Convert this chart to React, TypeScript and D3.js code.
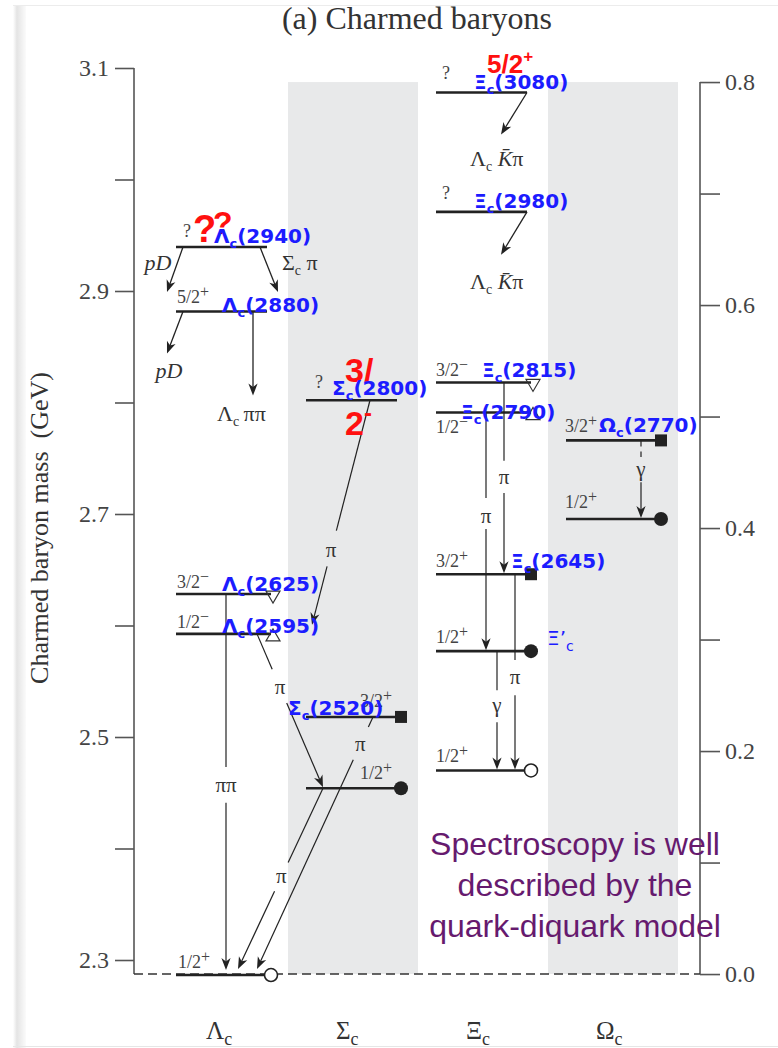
import React, { useEffect, useRef } from "react";
import * as d3 from "d3";

const W = 778;
const H = 1048;
const SERIF = "'Liberation Serif', 'Times New Roman', serif";
const SANS = "'Liberation Sans', Arial, sans-serif";
const DEJAVU = "'DejaVu Sans', sans-serif";
const BLUE = "#1c1cff";
const RED = "#ff1010";
const INK = "#222";

// ---------- data ----------
const COLUMNS = ["Λ", "Σ", "Ξ", "Ω"];
const MASS_TICKS = [2.3, 2.4, 2.5, 2.6, 2.7, 2.8, 2.9, 3.0, 3.1];
const MASS_LABELS = [2.3, 2.5, 2.7, 2.9, 3.1];
const EXC_TICKS = [0.0, 0.1, 0.2, 0.3, 0.4, 0.5, 0.6, 0.7, 0.8];
const EXC_LABELS = [0.0, 0.2, 0.4, 0.6, 0.8];
const LAMBDA_C0 = 2.2874; // reference (Λc ground) for the excitation axis

const LAMBDA_MASS = [2.2865, 2.5925, 2.6282, 2.8816, 2.9394];
const LAMBDA_JP = ["1/2+", "1/2−", "3/2−", "5/2+", "?"];
const LAMBDA_MARK = ["open", "triUp", "triDown", "", ""];

const SIGMA_MASS = [2.454, 2.518, 2.802];
const SIGMA_JP = ["1/2+", "3/2+", "?"];
const SIGMA_MARK = ["dot", "square", ""];

const XI_MASS = [2.47, 2.577, 2.646, 2.791, 2.818, 2.971, 3.078];
const XI_JP = ["1/2+", "1/2+", "3/2+", "1/2−", "3/2−", "?", "?"];
const XI_MARK = ["open", "dot", "square", "triUp", "triDown", "", ""];

const OMEGA_MASS = [2.6955, 2.766];
const OMEGA_JP = ["1/2+", "3/2+"];
const OMEGA_MARK = ["dot", "square"];

// ---------- layout of annotations ----------
const LAMBDA_JP_POS = [[20, -7], [19, -6], [19, -6], [19, -9], [25, -10]];
const SIGMA_JP_POS = [[72, -9], [72, -10], [27, -12]];
const XI_JP_POS = [[18, -8], [18, -8], [18, -7], [18, 20], [18, -6], [24, -13], [24, -14]];
const OMEGA_JP_POS = [[17, -11], [17, -8]];

const NAME_LABELS = [
  { col: 0, mass: LAMBDA_MASS[4], sym: "Λ", num: "(2940)", dx: 56, dy: -4 },
  { col: 0, mass: LAMBDA_MASS[3], sym: "Λ", num: "(2880)", dx: 64, dy: 0 },
  { col: 0, mass: LAMBDA_MASS[2], sym: "Λ", num: "(2625)", dx: 64, dy: -3 },
  { col: 0, mass: LAMBDA_MASS[1], sym: "Λ", num: "(2595)", dx: 64, dy: -1 },
  { col: 1, mass: SIGMA_MASS[1], sym: "Σ", num: "(2520)", dx: 0, dy: -2 },
  { col: 1, mass: SIGMA_MASS[2], sym: "Σ", num: "(2800)", dx: 44, dy: -5 },
  { col: 2, mass: XI_MASS[6], sym: "Ξ", num: "(3080)", dx: 56, dy: -4 },
  { col: 2, mass: XI_MASS[5], sym: "Ξ", num: "(2980)", dx: 56, dy: -4 },
  { col: 2, mass: XI_MASS[4], sym: "Ξ", num: "(2815)", dx: 64, dy: -5 },
  { col: 2, mass: XI_MASS[3], sym: "Ξ", num: "(2790)", dx: 43, dy: 6 },
  { col: 2, mass: XI_MASS[2], sym: "Ξ", num: "(2645)", dx: 93, dy: -6 },
  { col: 3, mass: OMEGA_MASS[1], sym: "Ω", num: "(2770)", dx: 51, dy: -8 },
];

// decays into the continuum (start on a level, fixed pixel length)
const CONT_ARROWS = [
  { x1: 183, m1: LAMBDA_MASS[4], x2: 167, len: 45 },
  { x1: 260, m1: LAMBDA_MASS[4], x2: 278, len: 45 },
  { x1: 183, m1: LAMBDA_MASS[3], x2: 167, len: 42 },
  { x1: 253, m1: LAMBDA_MASS[3], x2: 253, len: 84 },
  { x1: 527, m1: XI_MASS[6], x2: 501, len: 42 },
  { x1: 527, m1: XI_MASS[5], x2: 501, len: 43 },
];

// transitions between levels
const LEVEL_ARROWS = [
  { x1: 370, m1: SIGMA_MASS[2], x2: 312, m2: LAMBDA_MASS[1], off: -9, label: "π", t: 0.67, gap: [0.58, 0.74] },
  { x1: 257, m1: LAMBDA_MASS[1], x2: 323, m2: SIGMA_MASS[0], off: -1, label: "π", t: 0.35, gap: [0.23, 0.45] },
  { x1: 226, m1: LAMBDA_MASS[2], x2: 226, m2: LAMBDA_MASS[0], off: -5, label: "ππ", t: 0.51, gap: [0.46, 0.555] },
  { x1: 323, m1: SIGMA_MASS[0], x2: 238, m2: LAMBDA_MASS[0], off: -6, label: "π", t: 0.49, gap: [0.41, 0.57] },
  { x1: 373, m1: SIGMA_MASS[1], x2: 257, m2: LAMBDA_MASS[0], off: -6, label: "π", t: 0.11, gap: [0.04, 0.17] },
  { x1: 504, m1: XI_MASS[4], x2: 504, m2: XI_MASS[2], off: -1, label: "π", t: 0.5, gap: [0.41, 0.58] },
  { x1: 486, m1: XI_MASS[3], x2: 486, m2: XI_MASS[1], off: -1, label: "π", t: 0.44, gap: [0.36, 0.49] },
  { x1: 515, m1: XI_MASS[2], x2: 515, m2: XI_MASS[0], off: -1, label: "π", t: 0.53, gap: [0.44, 0.62] },
  { x1: 497, m1: XI_MASS[1], x2: 497, m2: XI_MASS[0], off: -1, label: "γ", t: 0.46, gap: [0.33, 0.6] },
  { x1: 641, m1: OMEGA_MASS[1], x2: 641, m2: OMEGA_MASS[0], off: -1, label: "γ", t: 0.38, gap: [0.215, 0.54], dashed: true },
];

type Level = { col: string; mass: number; jp: string; mark: string; pos: number[] };

function build(ci: number, masses: number[], jps: string[], marks: string[], pos: number[][]): Level[] {
  return masses.map((m, i) => ({ col: COLUMNS[ci], mass: m, jp: jps[i], mark: marks[i], pos: pos[i] }));
}

const LEVELS: Level[] = [
  ...build(0, LAMBDA_MASS, LAMBDA_JP, LAMBDA_MARK, LAMBDA_JP_POS),
  ...build(1, SIGMA_MASS, SIGMA_JP, SIGMA_MARK, SIGMA_JP_POS),
  ...build(2, XI_MASS, XI_JP, XI_MARK, XI_JP_POS),
  ...build(3, OMEGA_MASS, OMEGA_JP, OMEGA_MARK, OMEGA_JP_POS),
];

function Arrowhead({ x, y, angle }: { x: number; y: number; angle: number }) {
  return (
    <path
      d="M0,0 L-12,-4.6 L-8.5,0 L-12,4.6 Z"
      fill={INK}
      transform={`translate(${x},${y}) rotate(${(angle * 180) / Math.PI})`}
    />
  );
}

function JP({ x, y, jp }: { x: number; y: number; jp: string }) {
  const last = jp[jp.length - 1];
  const hasSign = last === "+" || last === "−";
  const body = hasSign ? jp.slice(0, -1) : jp;
  return (
    <text x={x} y={y} fontFamily={SERIF} fontSize={18} fill="#444">
      {body}
      {hasSign && (
        <tspan dy={-6} fontSize={16}>
          {last}
        </tspan>
      )}
    </text>
  );
}

export default function App() {
  const leftRef = useRef<SVGGElement>(null);
  const rightRef = useRef<SVGGElement>(null);

  const y = d3.scaleLinear().domain([2.3, 3.1]).range([960, 68]);
  const yR = d3
    .scaleLinear()
    .domain([0, 0.8])
    .range([y(LAMBDA_C0), y(LAMBDA_C0 + 0.8)]);
  const x = d3.scaleBand<string>().domain(COLUMNS).range([158, 678]);
  const bw = x.bandwidth();

  const AX_L = 134;
  const AX_R = 700;

  useEffect(() => {
    const isIn = (arr: number[], v: number) => arr.some((a) => Math.abs(a - v) < 1e-6);
    const fmt = d3.format(".1f");
    const axL = d3
      .axisLeft(y)
      .tickValues(MASS_TICKS)
      .tickSize(19)
      .tickPadding(6)
      .tickFormat((d: any) => (isIn(MASS_LABELS, +d) ? fmt(+d) : ""));
    const gl = d3.select(leftRef.current!);
    gl.call(axL as any);
    gl.select(".domain").remove();
    gl.attr("font-family", SERIF).attr("font-size", 24);
    gl.selectAll(".tick line").attr("stroke", "#555").attr("stroke-width", 1.6);
    gl.selectAll(".tick text").attr("fill", "#444");

    const axR = d3
      .axisRight(yR)
      .tickValues(EXC_TICKS)
      .tickSize(20)
      .tickPadding(5)
      .tickFormat((d: any) => (isIn(EXC_LABELS, +d) ? fmt(+d) : ""));
    const gr = d3.select(rightRef.current!);
    gr.call(axR as any);
    gr.select(".domain").remove();
    gr.attr("font-family", SERIF).attr("font-size", 24);
    gr.selectAll(".tick line").attr("stroke", "#555").attr("stroke-width", 1.6);
    gr.selectAll(".tick text").attr("fill", "#444");
  }, []);

  const markerX = (col: string) => (x(col) as number) + 113;

  const renderMarker = (l: Level, i: number) => {
    const cx = markerX(l.col);
    const cy = y(l.mass);
    switch (l.mark) {
      case "open":
        return <circle key={i} cx={cx} cy={cy} r={6.5} fill="#fff" stroke={INK} strokeWidth={1.6} />;
      case "dot":
        return <circle key={i} cx={cx} cy={cy} r={7} fill={INK} />;
      case "square":
        return <rect key={i} x={cx - 6} y={cy - 6} width={12} height={12} fill={INK} />;
      case "triUp": {
        const tx = cx + 2, ty = cy + 2;
        return (
          <path key={i} d={`M${tx - 7},${ty + 5} L${tx + 7},${ty + 5} L${tx},${ty - 7} Z`} fill="none" stroke="#333" strokeWidth={1.2} />
        );
      }
      case "triDown": {
        const tx = cx + 2, ty = cy + 2;
        return (
          <path key={i} d={`M${tx - 7},${ty - 5} L${tx + 7},${ty - 5} L${tx},${ty + 7} Z`} fill="none" stroke="#333" strokeWidth={1.2} />
        );
      }
      default:
        return null;
    }
  };

  const sub = (s: string, size = 14, dy = 5) => [
    <tspan key="s" dy={dy} fontSize={size}>
      {s}
    </tspan>,
  ];

  return (
    <svg
      width={W}
      height={H}
      style={{ position: "absolute", left: 0, top: 0, background: "#fff" }}
      xmlns="http://www.w3.org/2000/svg"
    >
      <defs>
        <linearGradient id="edge" x1="0" x2="1" y1="0" y2="0">
          <stop offset="0" stopColor="#ffffff" />
          <stop offset="0.3" stopColor="#e4e4e4" />
          <stop offset="1" stopColor="#fbfbfb" />
        </linearGradient>
      </defs>
      {/* page edge */}
      <rect x={13} y={5} width={13} height={H - 5} fill="url(#edge)" />
      <line x1={13} x2={W} y1={5.5} y2={5.5} stroke="#ececec" strokeWidth={1} />
      <line x1={13} x2={W} y1={1046.5} y2={1046.5} stroke="#e6e6e6" strokeWidth={1} />

      {/* title */}
      <text x={417} y={29} textAnchor="middle" fontFamily={SERIF} fontSize={32} fill="#333">
        (a) Charmed baryons
      </text>

      {/* grey bands */}
      {[COLUMNS[1], COLUMNS[3]].map((c) => (
        <rect key={c} x={x(c)} y={yR(0.8)} width={bw} height={yR(0) - yR(0.8)} fill="#e8e9ea" />
      ))}

      {/* axes */}
      <line x1={AX_L} x2={AX_L} y1={y(3.1)} y2={yR(0)} stroke="#555" strokeWidth={1.6} />
      <g ref={leftRef} transform={`translate(${AX_L},0)`} />
      <line x1={AX_R} x2={AX_R} y1={yR(0.8)} y2={yR(0)} stroke="#555" strokeWidth={1.6} />
      <g ref={rightRef} transform={`translate(${AX_R},0)`} />
      <line x1={AX_L} x2={AX_R} y1={yR(0)} y2={yR(0)} stroke="#333" strokeWidth={1.5} strokeDasharray="9 5" />

      {/* axis title */}
      <text
        transform={`translate(48,528) rotate(-90)`}
        textAnchor="middle"
        fontFamily={SERIF}
        fontSize={26}
        fill="#333"
        style={{ whiteSpace: "pre" }}
      >
        {"Charmed baryon mass  (GeV)"}
      </text>

      {/* column labels */}
      {COLUMNS.map((c) => (
        <text key={c} x={(x(c) as number) + bw / 2 - 17} y={1039} fontFamily={SERIF} fontSize={25} fill="#333">
          {c}
          <tspan dy={6} fontSize={18}>
            c
          </tspan>
        </text>
      ))}

      {/* level lines */}
      {LEVELS.map((l, i) => {
        const x0 = (x(l.col) as number) + 18;
        const x1 = l.mark ? markerX(l.col) : (x(l.col) as number) + 109;
        return <line key={i} x1={x0} x2={x1} y1={y(l.mass)} y2={y(l.mass)} stroke={INK} strokeWidth={2.6} />;
      })}

      {/* continuum decays */}
      {CONT_ARROWS.map((a, i) => {
        const y1 = y(a.m1);
        const y2 = y1 + a.len;
        const ang = Math.atan2(y2 - y1, a.x2 - a.x1);
        return (
          <g key={i}>
            <line x1={a.x1} y1={y1} x2={a.x2 - 8 * Math.cos(ang)} y2={y2 - 8 * Math.sin(ang)} stroke={INK} strokeWidth={1.3} />
            <Arrowhead x={a.x2} y={y2} angle={ang} />
          </g>
        );
      })}

      {/* level-to-level transitions */}
      {LEVEL_ARROWS.map((a, i) => {
        const y1 = y(a.m1);
        const y2 = y(a.m2) + a.off;
        const px = (t: number) => a.x1 + (a.x2 - a.x1) * t;
        const py = (t: number) => y1 + (y2 - y1) * t;
        const ang = Math.atan2(y2 - y1, a.x2 - a.x1);
        const endT = 1 - 8 / Math.hypot(a.x2 - a.x1, y2 - y1);
        return (
          <g key={i}>
            <line
              x1={px(0)}
              y1={py(0)}
              x2={px(a.gap[0])}
              y2={py(a.gap[0])}
              stroke={INK}
              strokeWidth={1.2}
              strokeDasharray={a.dashed ? "6 5" : undefined}
            />
            <line x1={px(a.gap[1])} y1={py(a.gap[1])} x2={px(endT)} y2={py(endT)} stroke={INK} strokeWidth={1.2} />
            <Arrowhead x={a.x2} y={y2} angle={ang} />
            <text x={px(a.t)} y={py(a.t)} dy="0.3em" textAnchor="middle" fontFamily={SERIF} fontSize={21} fill="#333">
              {a.label}
            </text>
          </g>
        );
      })}

      {/* continuum labels */}
      <g fontFamily={SERIF} fontSize={22} fill="#333">
        <text x={158} y={270} textAnchor="middle" fontStyle="italic">
          pD
        </text>
        <text x={169} y={378} textAnchor="middle" fontStyle="italic">
          pD
        </text>
        <text x={282} y={270}>
          Σ{sub("c")}
          <tspan dy={-5}> π</tspan>
        </text>
        <text x={217} y={421}>
          Λ{sub("c")}
          <tspan dy={-5}>{"\u2009ππ"}</tspan>
        </text>
        {[XI_MASS[6], XI_MASS[5]].map((m, i) => (
          <text key={i} x={470} y={y(m) + (i === 0 ? 73 : 77)}>
            Λ{sub("c")}
            <tspan dy={-5} fontStyle="italic">
              {" K\u0304"}
            </tspan>
            <tspan>π</tspan>
          </text>
        ))}
      </g>

      {/* markers */}
      {LEVELS.map(renderMarker)}

      {/* spin-parity labels */}
      {LEVELS.map((l, i) => (
        <JP key={i} x={(x(l.col) as number) + l.pos[0]} y={y(l.mass) + l.pos[1]} jp={l.jp} />
      ))}

      {/* red annotations */}
      <g fontFamily={SANS} fontWeight="bold" fill={RED}>
        <text x={(x(COLUMNS[0]) as number) + 35} y={y(LAMBDA_MASS[4]) - 5} fontSize={38}>
          ?
        </text>
        <text x={(x(COLUMNS[0]) as number) + 55} y={y(LAMBDA_MASS[4]) - 13} fontSize={32}>
          ?
        </text>
        <text x={(x(COLUMNS[2]) as number) + 69} y={y(XI_MASS[6]) - 20} fontSize={26}>
          5/2
          <tspan dy={-11} fontSize={17}>
            +
          </tspan>
        </text>
        <text x={(x(COLUMNS[1]) as number) + 57} y={y(SIGMA_MASS[2]) - 18} fontSize={34}>
          3/
        </text>
        <text x={(x(COLUMNS[1]) as number) + 57} y={y(SIGMA_MASS[2]) + 35} fontSize={34}>
          2
          <tspan dy={-14} fontSize={24}>
            -
          </tspan>
        </text>
      </g>

      {/* blue names */}
      {NAME_LABELS.map((n, i) => (
        <text
          key={i}
          x={(x(COLUMNS[n.col]) as number) + n.dx}
          y={y(n.mass) + n.dy}
          fontFamily={DEJAVU}
          fontWeight="bold"
          fontSize={20}
          fill={BLUE}
        >
          {n.sym}
          <tspan dy={5} fontSize={13}>
            c
          </tspan>
          <tspan dy={-5}>{n.num}</tspan>
        </text>
      ))}
      <text
        x={(x(COLUMNS[2]) as number) + 129}
        y={y(XI_MASS[1]) - 6}
        fontFamily={DEJAVU}
        fontSize={20}
        fill={BLUE}
      >
        Ξ’
        <tspan dy={6} fontSize={14}>
          c
        </tspan>
      </text>

      {/* statement */}
      <g fontFamily={SANS} fontSize={32} fill="#661a6e" textAnchor="middle">
        <text x={575} y={855}>
          Spectroscopy is well
        </text>
        <text x={575} y={896}>
          described by the
        </text>
        <text x={575} y={937}>
          quark-diquark model
        </text>
      </g>
    </svg>
  );
}
